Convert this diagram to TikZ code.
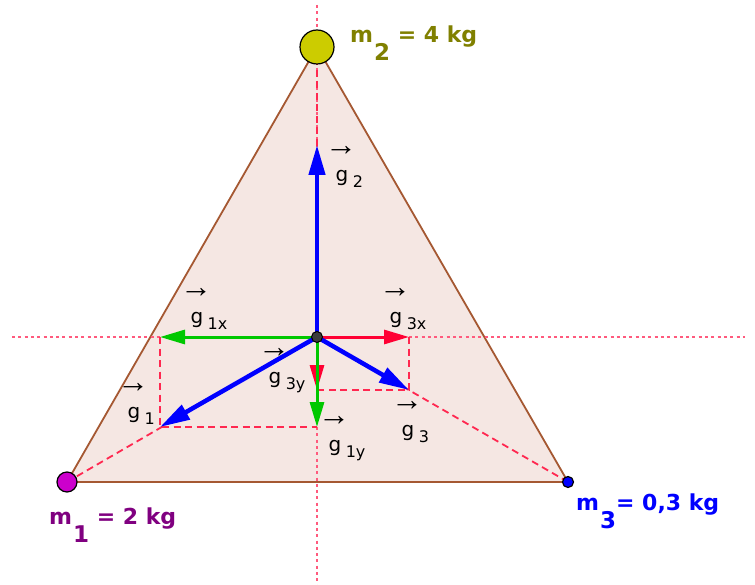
\documentclass[tikz,border=0pt]{standalone}
\usepackage{fontspec}
\setmainfont{DejaVu Sans}
\newfontfamily\arrowfont{Liberation Sans}
\usetikzlibrary{arrows.meta,calc}
\definecolor{trifill}{RGB}{245,231,227}
\definecolor{triedge}{RGB}{165,88,50}
\definecolor{dashred}{RGB}{255,40,80}
\definecolor{axispink}{RGB}{255,90,125}
\definecolor{gblue}{RGB}{0,0,255}
\definecolor{ggreen}{RGB}{0,200,0}
\definecolor{gred}{RGB}{255,0,51}
\definecolor{olivel}{RGB}{128,128,0}
\definecolor{purplel}{RGB}{128,0,128}
\definecolor{bluel}{RGB}{0,0,255}
\definecolor{mtwofill}{RGB}{204,204,0}
\definecolor{monefill}{RGB}{204,0,204}
\definecolor{centerfill}{RGB}{60,60,60}
\newcommand{\msubscript}[1]{\hspace{1pt}\raisebox{-18pt}{\fontsize{23}{23}\selectfont #1}}
\newcommand{\gvlabel}[4]{%
  \node[gsym] (#1) at (#2,#3) {g};
  \node[garrow] (#1-arr) at ($(#1.center)+(-1,-27)$) {→};
  \node[gsub, anchor=base west] (#1-sub) at ($(#1.base east)+(4,6)$) {#4};
}
\begin{document}
\begin{tikzpicture}[x=1pt,y=-1pt,
  axisline/.style={axispink, line width=1.4pt, dash pattern=on 3pt off 3.3pt},
  projline/.style={dashred, line width=1.8pt, dash pattern=on 7pt off 4.5pt},
  bvec/.style={line width=4.5pt, -{Triangle[length=30pt,width=16pt]}},
  cvec/.style={line width=3pt, -{Triangle[length=25pt,width=14pt]}},
  masspt/.style={circle, draw=black, line width=1.2pt, inner sep=0pt},
  mlab/.style={font=\bfseries\fontsize{22}{22}\selectfont, inner sep=0pt, anchor=base west},
  gsym/.style={inner sep=0pt, font=\fontsize{20}{20}\selectfont},
  garrow/.style={inner sep=0pt, font=\arrowfont\fontsize{32}{32}\selectfont},
  gsub/.style={inner sep=0pt, font=\fontsize{16}{16}\selectfont}]
\useasboundingbox[fill=white] (0,0) rectangle (755,585);
% key points
\coordinate (c1) at (67,482);
\coordinate (c2) at (317,47);
\coordinate (c3) at (568,482);
\coordinate (Oc) at (317,337);
\coordinate (t2) at (317,145);
\coordinate (t1) at (160,427);
\coordinate (t3) at (409,390);
\coordinate (t1x) at (160,337);
\coordinate (t1y) at (317,427);
\coordinate (t3x) at (409,337);
\coordinate (t3y) at (317,390);
\coordinate (axl) at (12,337);
\coordinate (axr) at (745,337);
\coordinate (axt) at (317,5);
\coordinate (axb) at (317,585);
% triangle
\draw[triedge, fill=trifill, line width=1.8pt, line join=round] (c1) -- (c2) -- (c3) -- cycle;
% axes
\draw[axisline] (axl) -- (axr);
\draw[axisline] (axt) -- (axb);
% dashed lines
\draw[projline] (c2) -- (Oc);
\draw[projline] (c1) -- (Oc);
\draw[projline] (c3) -- (Oc);
\draw[projline] (t1x) -- (t1) -- (t1y);
\draw[projline] (t3x) -- (t3) -- (t3y);
% vectors
\draw[cvec, gred] (Oc) -- (t3x);
\draw[cvec, gred] (Oc) -- (t3y);
\draw[cvec, ggreen] (Oc) -- (t1x);
\draw[cvec, ggreen] (Oc) -- (t1y);
\draw[bvec, gblue] (Oc) -- (t2);
\draw[bvec, gblue] (Oc) -- (t1);
\draw[bvec, gblue] (Oc) -- (t3);
% points
\node[circle, draw=black, fill=centerfill, line width=1pt, minimum size=11pt, inner sep=0pt] (O) at (Oc) {};
\node[masspt, fill=mtwofill, minimum size=34pt] (m2) at (c2) {};
\node[masspt, fill=monefill, minimum size=20pt] (m1) at (c1) {};
\node[masspt, fill=bluel, minimum size=11pt] (m3) at (c3) {};
% mass labels
\node[mlab, text=olivel] (l2) at (350,43) {m\msubscript{2} = 4 kg};
\node[mlab, text=purplel] (l1) at (49,524) {m\msubscript{1} = 2 kg};
\node[mlab, text=bluel] (l3) at (576,510) {m\msubscript{3}= 0,3 kg};
% vector labels
\gvlabel{g2}{342}{178}{2}
\gvlabel{g1x}{197}{320}{1x}
\gvlabel{g3x}{396}{320}{3x}
\gvlabel{g3y}{275}{380}{3y}
\gvlabel{g1}{134}{415}{1}
\gvlabel{g1y}{335}{448}{1y}
\gvlabel{g3}{408}{433}{3}
\end{tikzpicture}
\end{document}
